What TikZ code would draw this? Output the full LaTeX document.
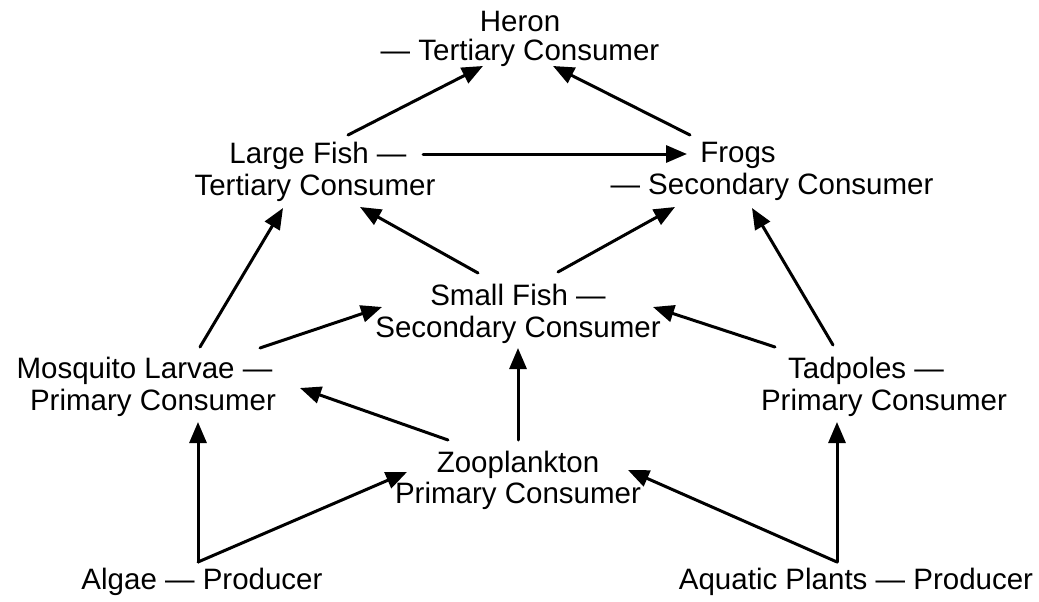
\documentclass[tikz,border=0pt]{standalone}
\usepackage{fontspec}
\setmainfont{Liberation Sans}
\usetikzlibrary{calc,arrows.meta}
\tikzset{
  org/.style={inner sep=0pt, align=center, font=\fontsize{29.5}{32}\selectfont},
  arr/.style={line width=3pt, line cap=round, -{Triangle[length=21pt,width=17pt]}}
}
\begin{document}
\begin{tikzpicture}[x=1pt,y=-1pt]
\useasboundingbox[fill=white] (0,0) rectangle (1039,602);
\node[org, font=\fontsize{29.5}{28.5}\selectfont] (heron) at (520,38.8) {Heron\\— Tertiary Consumer};
\node[org] (lf) at (315,171.8) {\hspace*{6pt}Large Fish —\\Tertiary Consumer};
\node[org] (frogs) at (772,171.8) {Frogs\hspace*{68pt}\\— Secondary Consumer};
\node[org] (sf) at (518,313.8) {Small Fish —\\Secondary Consumer};
\node[org] (ml) at (153,386.8) {Mosquito Larvae —\hspace*{17pt}\\Primary Consumer};
\node[org] (tad) at (884,386.8) {Tadpoles —\hspace*{36pt}\\Primary Consumer};
\node[org, font=\fontsize{29.5}{31}\selectfont] (zoo) at (518,480.3) {Zooplankton\\Primary Consumer};
\node[org] (algae) at (202,582.3) {Algae — Producer};
\node[org] (aqp) at (856,582.3) {Aquatic Plants — Producer};
\coordinate (algaetop) at ($(algae.center)+(-4,-20.3)$);
\coordinate (aqptop) at ($(aqp.center)+(-19,-20.3)$);
% arrows
\draw[arr] ($(lf.center)+(33,-36.8)$) -- ($(heron.center)+(-37,27.2)$);
\draw[arr] ($(frogs.center)+(-82,-36.8)$) -- ($(heron.center)+(33,27.2)$);
\draw[arr] ($(lf.center)+(108,-17.8)$) -- ($(frogs.center)+(-85,-17.8)$);
\draw[arr] ($(sf.center)+(-40,-40.8)$) -- ($(lf.center)+(45,35.2)$);
\draw[arr] ($(sf.center)+(40,-41.8)$) -- ($(frogs.center)+(-97,35.2)$);
\draw[arr] ($(ml.center)+(47,-39.8)$) -- ($(lf.center)+(-32,36.2)$);
\draw[arr] ($(ml.center)+(107,-38.8)$) -- ($(sf.center)+(-136,-6.8)$);
\draw[arr] ($(tad.center)+(-109,-39.8)$) -- ($(sf.center)+(135,-6.8)$);
\draw[arr] ($(tad.center)+(-51,-41.8)$) -- ($(frogs.center)+(-20,36.2)$);
\draw[arr] ($(zoo.center)+(-70,-40.3)$) -- ($(ml.center)+(147,1.2)$);
\draw[arr] ($(zoo.center)+(0,-40.3)$) -- ($(sf.center)+(0,34.2)$);
\draw[arr] (algaetop) -- ($(ml.center)+(45,35.2)$);
\draw[arr] (algaetop) -- ($(zoo.center)+(-111,-8.3)$);
\draw[arr] (aqptop) -- ($(tad.center)+(-47,35.2)$);
\draw[arr] (aqptop) -- ($(zoo.center)+(110,-10.3)$);
\end{tikzpicture}
\end{document}
